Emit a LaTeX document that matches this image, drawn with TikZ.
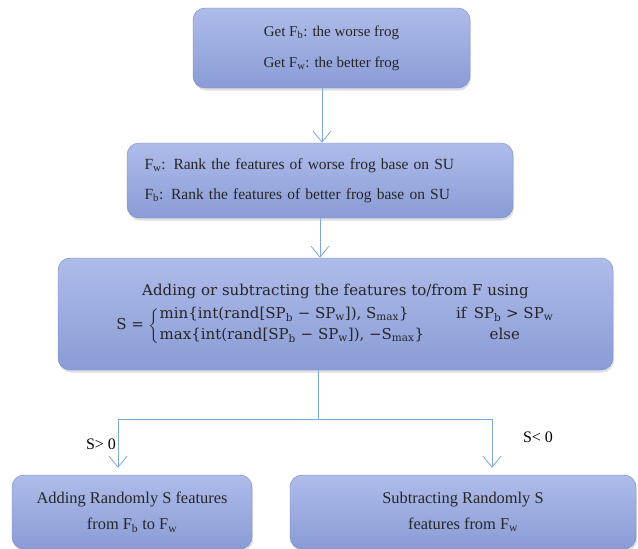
\documentclass[tikz,border=0pt]{standalone}
\usepackage{amsmath}
\usepackage{fontspec}
\setmainfont{Liberation Serif}
\newfontfamily\formulafont{DejaVu Serif}
\usetikzlibrary{shapes, arrows.meta, positioning, shadows}

\definecolor{boxtop}{RGB}{174,188,234}
\definecolor{boxbot}{RGB}{138,156,214}
\definecolor{boxline}{RGB}{120,136,198}
\definecolor{flow}{RGB}{128,168,214}

\begin{document}
\begin{tikzpicture}[x=1pt,y=-1pt,
	blk/.style={draw=boxline, rounded corners=12pt, top color=boxtop, bottom color=boxbot,
		drop shadow={opacity=0.25, shadow xshift=1pt, shadow yshift=-2.5pt},
		inner sep=0pt, align=center, text=black!85},
	flowline/.style={draw=flow, line width=0.8pt},
	tip/.style={flowline, -{Straight Barb[length=11pt,width=18pt]}}]
			\useasboundingbox (0,0) rectangle (638,549);
			\node[blk, minimum width=277pt, minimum height=80pt, font=\fontsize{15}{17}\selectfont] (getfrog) at (331.5,48)
				{Get F\textsubscript{b}: the worse frog\\[14pt]Get F\textsubscript{w}: the better frog};
			\node[blk, minimum width=386pt, minimum height=75pt, align=left, text width=351pt, inner xsep=17.5pt,
				font=\fontsize{15.5}{17}\selectfont] (rank) at (320,180.5)
				{F\textsubscript{w}: Rank the features of worse frog base on SU\\[13pt]F\textsubscript{b}: Rank the features of better frog base on SU};
			\node[blk, minimum width=555pt, minimum height=112pt, font=\formulafont\fontsize{15}{18}\selectfont] (update) at (335.5,314)
				{Adding or subtracting the features to/from F using\\[8pt]
				\renewcommand{\arraystretch}{0.85}%
				S = $\left\{\mbox{\begin{tabular}{@{}l@{\hspace{32pt}}c@{}}
				min\{int(rand[SP\textsubscript{b} − SP\textsubscript{w}]), S\textsubscript{max}\} & if\, SP\textsubscript{b} > SP\textsubscript{w}\\[5pt]
				max\{int(rand[SP\textsubscript{b} − SP\textsubscript{w}]), −S\textsubscript{max}\} & else
				\end{tabular}}\right.$};
			\node[blk, minimum width=240pt, minimum height=74pt, font=\fontsize{16.4}{26}\selectfont] (addf) at (132,512)
				{Adding Randomly S features\\from F\textsubscript{b} to F\textsubscript{w}};
			\node[blk, minimum width=346pt, minimum height=74pt, font=\fontsize{16.4}{26}\selectfont] (subf) at (463,512)
				{Subtracting Randomly S\\features from F\textsubscript{w}};
			\coordinate (split) at (318,419);
			% arrows
			\draw[tip] ([xshift=-9.5pt]getfrog.south) -- ([xshift=-9.5pt]getfrog.south |- rank.north);
			\draw[tip] (rank.south) -- (rank.south |- update.north);
			\draw[flowline] ([xshift=-17.5pt]update.south) -- (split);
			\draw[tip, shorten >=7pt] (split) -| ([xshift=-14pt]addf.north);
			\draw[tip, shorten >=7pt] (split) -| ([xshift=29pt]subf.north);
			\node[font=\fontsize{16}{18}\selectfont] (pos) at (101,444) {S> 0};
			\node[font=\fontsize{16}{18}\selectfont] (neg) at (538,437) {S< 0};
		\end{tikzpicture}
\end{document}
